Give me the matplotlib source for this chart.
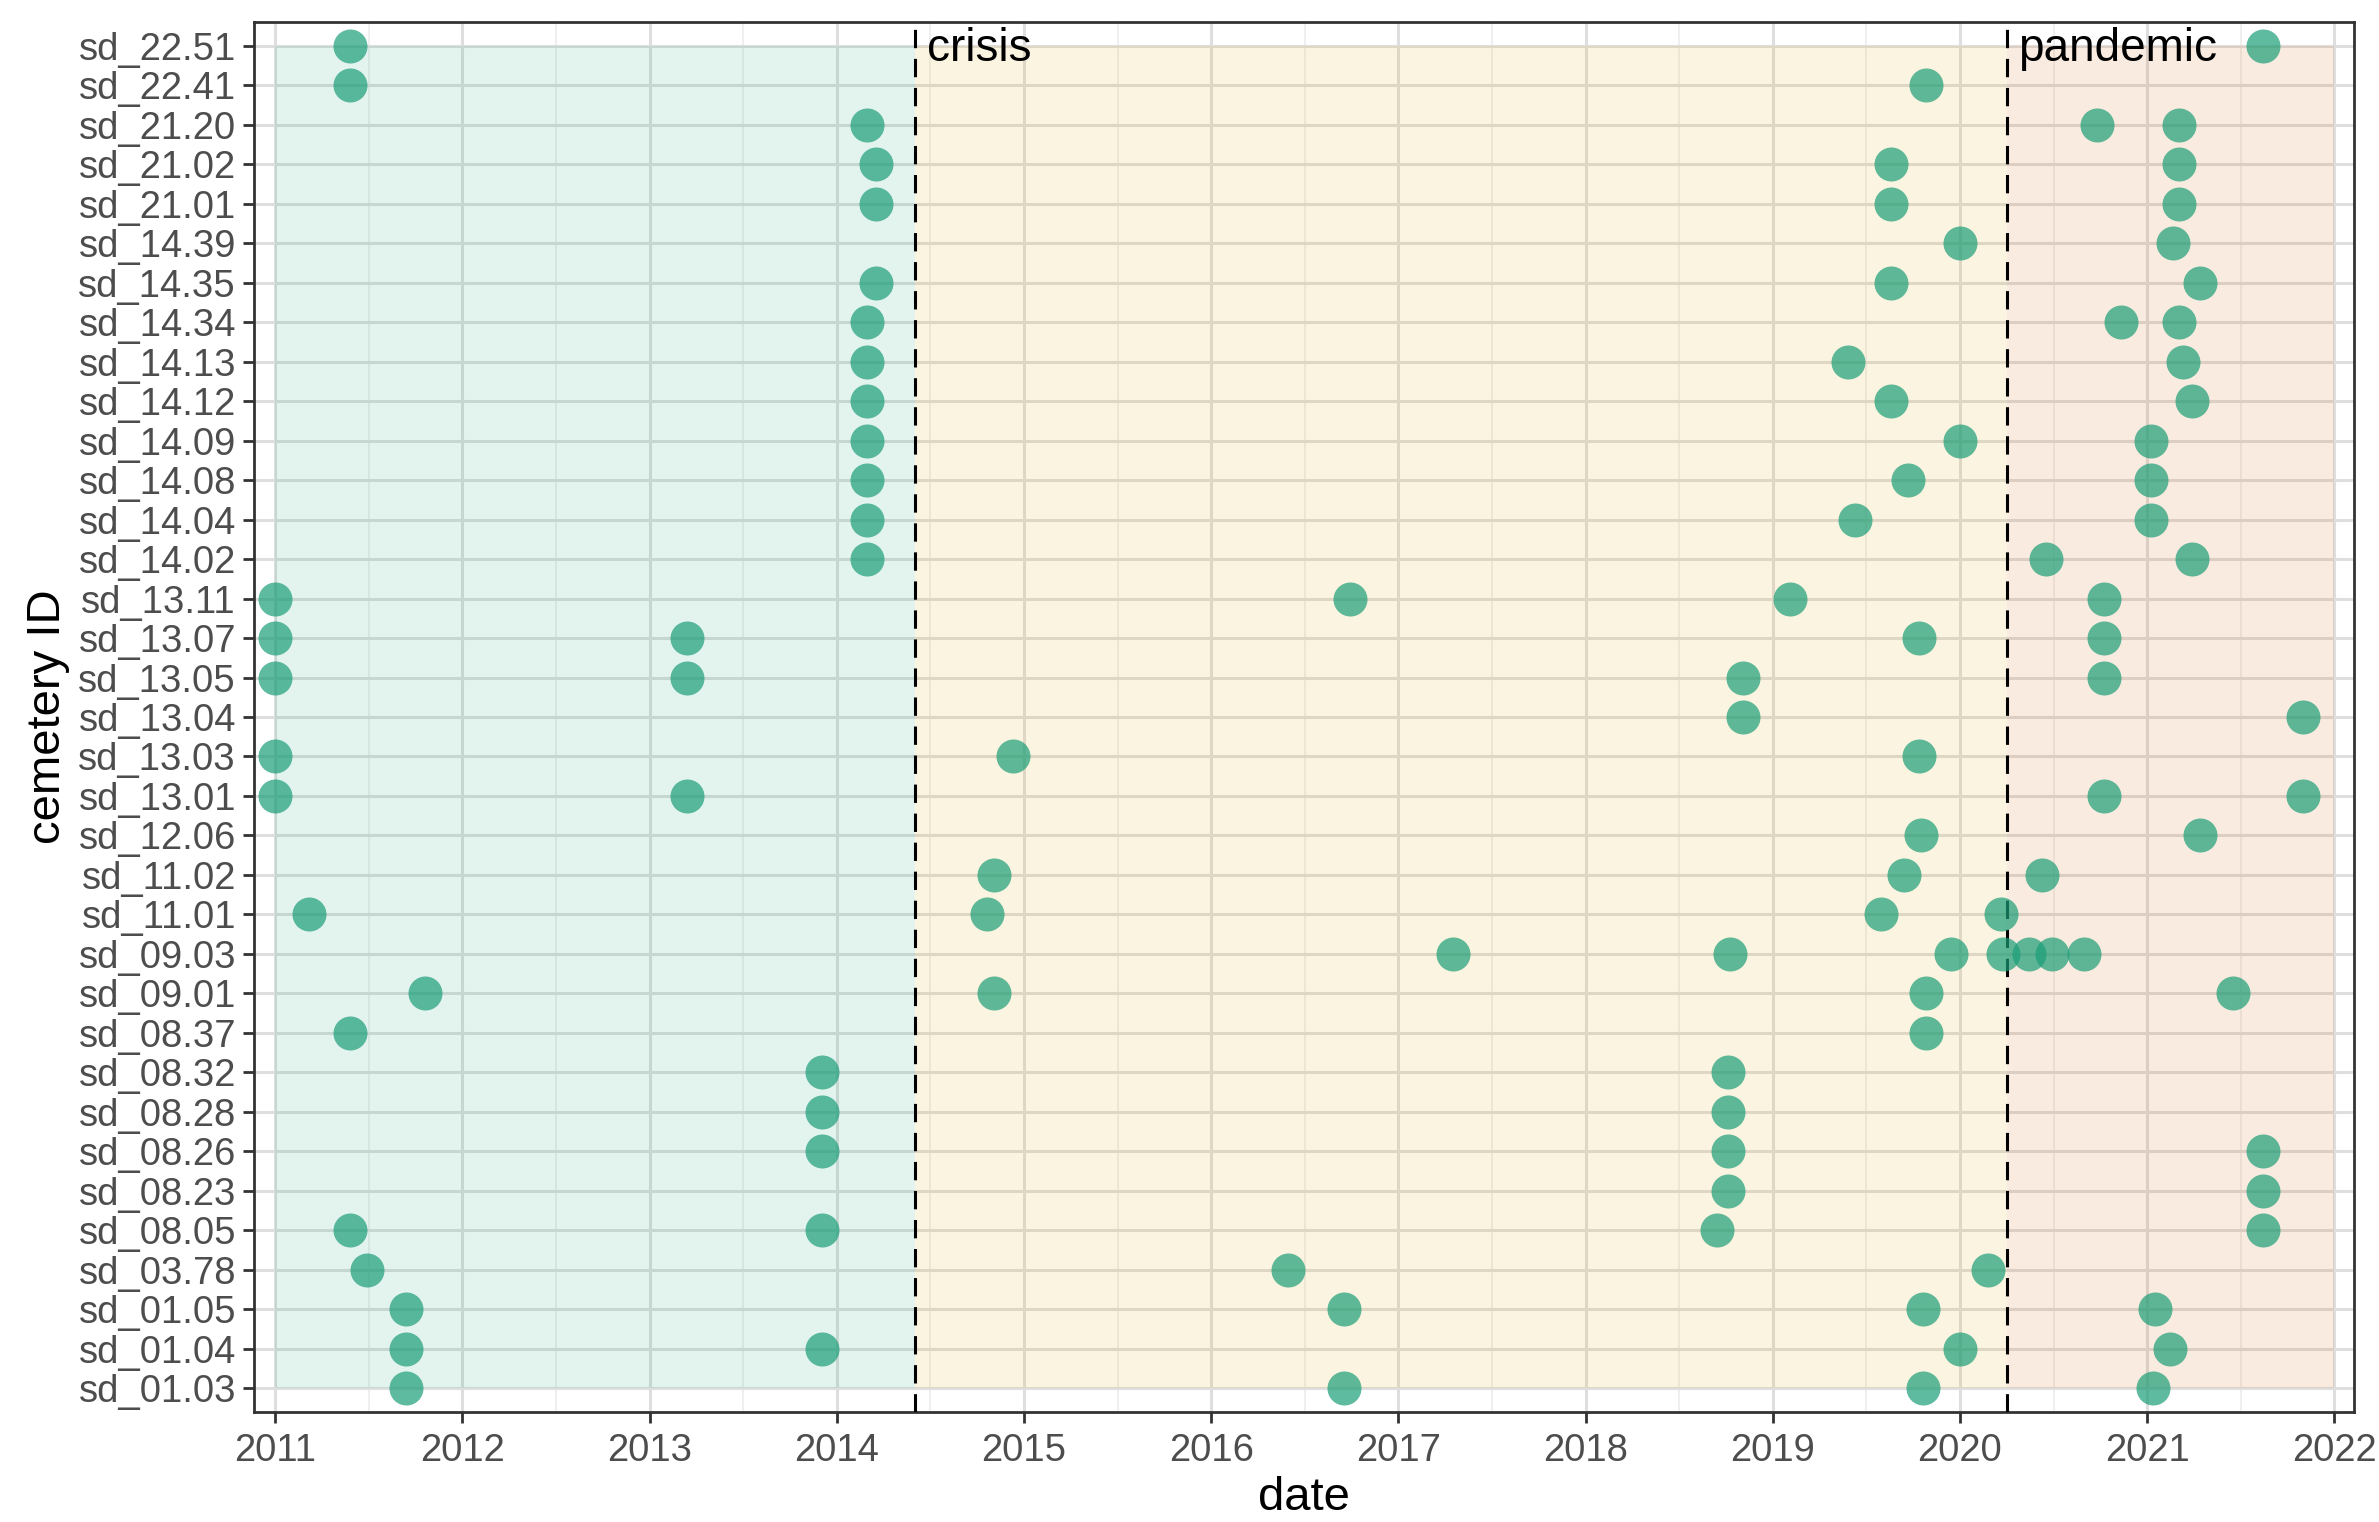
import numpy as np
import matplotlib.pyplot as plt
from matplotlib.ticker import MultipleLocator

plt.rcParams['font.family'] = ['Liberation Sans', 'DejaVu Sans']

# cemetery IDs, bottom to top
cemeteries = ['sd_01.03', 'sd_01.04', 'sd_01.05', 'sd_03.78', 'sd_08.05', 'sd_08.23',
              'sd_08.26', 'sd_08.28', 'sd_08.32', 'sd_08.37', 'sd_09.01', 'sd_09.03',
              'sd_11.01', 'sd_11.02', 'sd_12.06', 'sd_13.01', 'sd_13.03', 'sd_13.04',
              'sd_13.05', 'sd_13.07', 'sd_13.11', 'sd_14.02', 'sd_14.04', 'sd_14.08',
              'sd_14.09', 'sd_14.12', 'sd_14.13', 'sd_14.34', 'sd_14.35', 'sd_14.39',
              'sd_21.01', 'sd_21.02', 'sd_21.20', 'sd_22.41', 'sd_22.51']

# observation dates (decimal years) per cemetery
dates = {
    'sd_22.51': [2011.40, 2021.62],
    'sd_22.41': [2011.40, 2019.82],
    'sd_21.20': [2014.16, 2020.73, 2021.17],
    'sd_21.02': [2014.21, 2019.63, 2021.17],
    'sd_21.01': [2014.21, 2019.63, 2021.17],
    'sd_14.39': [2020.00, 2021.14],
    'sd_14.35': [2014.21, 2019.63, 2021.28],
    'sd_14.34': [2014.16, 2020.86, 2021.17],
    'sd_14.13': [2014.16, 2019.40, 2021.19],
    'sd_14.12': [2014.16, 2019.63, 2021.24],
    'sd_14.09': [2014.16, 2020.00, 2021.02],
    'sd_14.08': [2014.16, 2019.72, 2021.02],
    'sd_14.04': [2014.16, 2019.44, 2021.02],
    'sd_14.02': [2014.16, 2020.46, 2021.24],
    'sd_13.11': [2011.00, 2016.74, 2019.09, 2020.77],
    'sd_13.07': [2011.00, 2013.20, 2019.78, 2020.77],
    'sd_13.05': [2011.00, 2013.20, 2018.84, 2020.77],
    'sd_13.04': [2018.84, 2021.83],
    'sd_13.03': [2011.00, 2014.94, 2019.78],
    'sd_13.01': [2011.00, 2013.20, 2020.77, 2021.83],
    'sd_12.06': [2019.79, 2021.28],
    'sd_11.02': [2014.84, 2019.70, 2020.44],
    'sd_11.01': [2011.18, 2014.80, 2019.58, 2020.22],
    'sd_09.03': [2017.29, 2018.77, 2019.95, 2020.23, 2020.37, 2020.49, 2020.66],
    'sd_09.01': [2011.80, 2014.84, 2019.82, 2021.46],
    'sd_08.37': [2011.40, 2019.82],
    'sd_08.32': [2013.92, 2018.76],
    'sd_08.28': [2013.92, 2018.76],
    'sd_08.26': [2013.92, 2018.76, 2021.62],
    'sd_08.23': [2018.76, 2021.62],
    'sd_08.05': [2011.40, 2013.92, 2018.70, 2021.62],
    'sd_03.78': [2011.49, 2016.41, 2020.15],
    'sd_01.05': [2011.70, 2016.71, 2019.80, 2021.04],
    'sd_01.04': [2011.70, 2013.92, 2020.00, 2021.12],
    'sd_01.03': [2011.70, 2016.71, 2019.80, 2021.03],
}

# periods
period_names = ['', 'crisis', 'pandemic']
period_starts = [2011.0, 2014.42, 2020.25]
period_ends = [2014.42, 2020.25, 2022.0]
period_colors = ['#1b9e77', '#e6ab02', '#d95f02']

fig = plt.figure(figsize=(23.79, 15.22), dpi=100)
ax = fig.add_axes([0.1068, 0.0723, 0.9895 - 0.1068, 0.9855 - 0.0723])

ypos = {c: i for i, c in enumerate(cemeteries)}
ny = len(cemeteries)

for s, e, col in zip(period_starts, period_ends, period_colors):
    ax.fill_between([s, e], 0, ny - 1, color=col, alpha=0.12, lw=0, zorder=1)

xs, ys = [], []
for c, d in dates.items():
    xs += d
    ys += [ypos[c]] * len(d)
ax.scatter(xs, ys, s=600, color='#1b9e77', alpha=0.7, lw=0, zorder=4)

for s, name in zip(period_starts[1:], period_names[1:]):
    ax.axvline(s, color='black', lw=2.2, ls=(0, (6, 3.5)), zorder=3)
    ax.annotate(name, (s, ny - 1), xytext=(8, -2), textcoords='offset points',
                ha='left', va='center', fontsize=33, zorder=5)

ax.set_xlim(2010.887, 2022.105)
ax.set_ylim(-0.6, ny - 1 + 0.6)
ax.set_yticks(range(ny))
ax.set_yticklabels(cemeteries)
ax.xaxis.set_major_locator(MultipleLocator(1))
ax.xaxis.set_minor_locator(MultipleLocator(0.5))
ax.xaxis.set_major_formatter(plt.FuncFormatter(lambda v, p: f'{int(round(v))}'))

ax.grid(True, which='major', color='#dedede', lw=2.2, zorder=0)
ax.grid(True, which='minor', axis='x', color='#ececec', lw=1.2, zorder=0)
ax.set_axisbelow(True)

ax.tick_params(which='major', length=8, width=2, color='#333333', labelsize=27.5,
               labelcolor='#4d4d4d', pad=5)
ax.tick_params(axis='x', which='major', pad=7)
ax.tick_params(which='minor', length=0)
for sp in ax.spines.values():
    sp.set_color('#333333')
    sp.set_linewidth(2)

ax.set_xlabel('date', fontsize=34, labelpad=5)
ax.set_ylabel('cemetery ID', fontsize=34, labelpad=6)

fig.savefig('out.png', dpi=100)
